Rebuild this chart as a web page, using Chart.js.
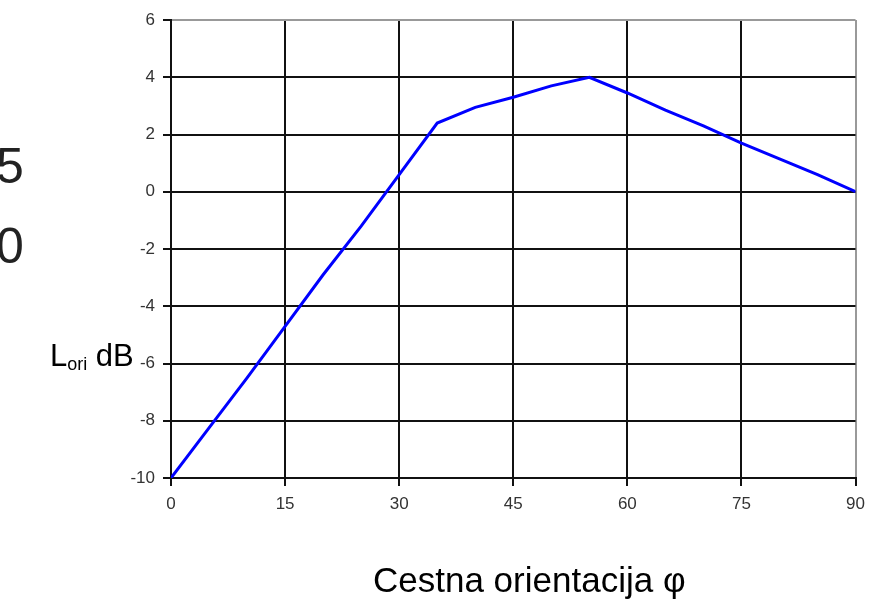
<!DOCTYPE html>
<html>
<head>
<meta charset="utf-8">
<script src="https://cdn.jsdelivr.net/npm/chart.js@4.4.0/dist/chart.umd.min.js"></script>
<style>
  body { margin: 0; background: #fff; }
  #wrap { position: relative; width: 873px; height: 601px; overflow: hidden; font-family: "Liberation Sans", Arial, sans-serif; color: #000; }
  #chart { position: absolute; left: 0; top: 0; }
  .txt { position: absolute; line-height: 1; white-space: nowrap; }
  .big { font-size: 50px; color: #222; }
  sub { font-size: 0.58em; vertical-align: -0.25em; }
</style>
</head>
<body>
<div id="wrap">
  <canvas id="chart" width="873" height="601"></canvas>
  <div class="txt big" style="left:-4px; top:141px;">5</div>
  <div class="txt big" style="left:-4px; top:221px;">0</div>
  <div class="txt" style="left:50px; top:340px; font-size:31px;">L<sub>ori</sub> dB</div>
  <div class="txt" style="left:373px; top:562px; font-size:35px;">Cestna orientacija φ</div>
</div>
<script>
// orientation angle (deg) and L_ori (dB)
const angles = [0, 5, 10, 15, 20, 25, 30, 35, 40, 45, 50, 55, 60, 65, 70, 75, 80, 85, 90];
const lori = [-10, -8.25, -6.5, -4.7, -2.9, -1.2, 0.6, 2.4, 2.95, 3.3, 3.7, 4.0, 3.45, 2.85, 2.3, 1.7, 1.15, 0.6, 0];

const xTicks = [0, 15, 30, 45, 60, 75, 90];
const yTicks = [-10, -8, -6, -4, -2, 0, 2, 4, 6];

const points = angles.map((a, i) => ({x: a, y: lori[i]}));

const tickFont = {family: '"Liberation Sans", Arial, sans-serif', size: 17};

new Chart(document.getElementById('chart'), {
    type: 'line',
    data: {
        datasets: [{
            data: points,
            borderColor: '#0000ff',
            borderWidth: 3,
            pointRadius: 0,
            tension: 0,
            fill: false
        }]
    },
    options: {
        responsive: false,
        devicePixelRatio: 1,
        animation: false,
        layout: {padding: {top: 20, right: 14, left: 0, bottom: 0}},
        plugins: {legend: {display: false}, tooltip: {enabled: false}},
        scales: {
            x: {
                type: 'linear',
                min: xTicks[0],
                max: xTicks[xTicks.length - 1],
                afterBuildTicks: s => { s.ticks = xTicks.map(v => ({value: v})); },
                afterFit: s => { s.height = 123; },
                grid: {
                    color: c => (c.tick && c.tick.value === 90) ? '#999' : '#111',
                    tickColor: '#111',
                    lineWidth: 2,
                    tickLength: 8
                },
                border: {color: '#111', width: 2},
                ticks: {font: tickFont, color: '#333', padding: 8, maxRotation: 0}
            },
            y: {
                min: yTicks[0],
                max: yTicks[yTicks.length - 1],
                afterBuildTicks: s => { s.ticks = yTicks.map(v => ({value: v})); },
                afterFit: s => { s.width = 171; },
                grid: {
                    color: c => (c.tick && c.tick.value === 6) ? '#999' : '#111',
                    tickColor: '#111',
                    lineWidth: 2,
                    tickLength: 8
                },
                border: {color: '#111', width: 2},
                ticks: {font: tickFont, color: '#333', padding: 8}
            }
        }
    }
});
</script>
</body>
</html>
